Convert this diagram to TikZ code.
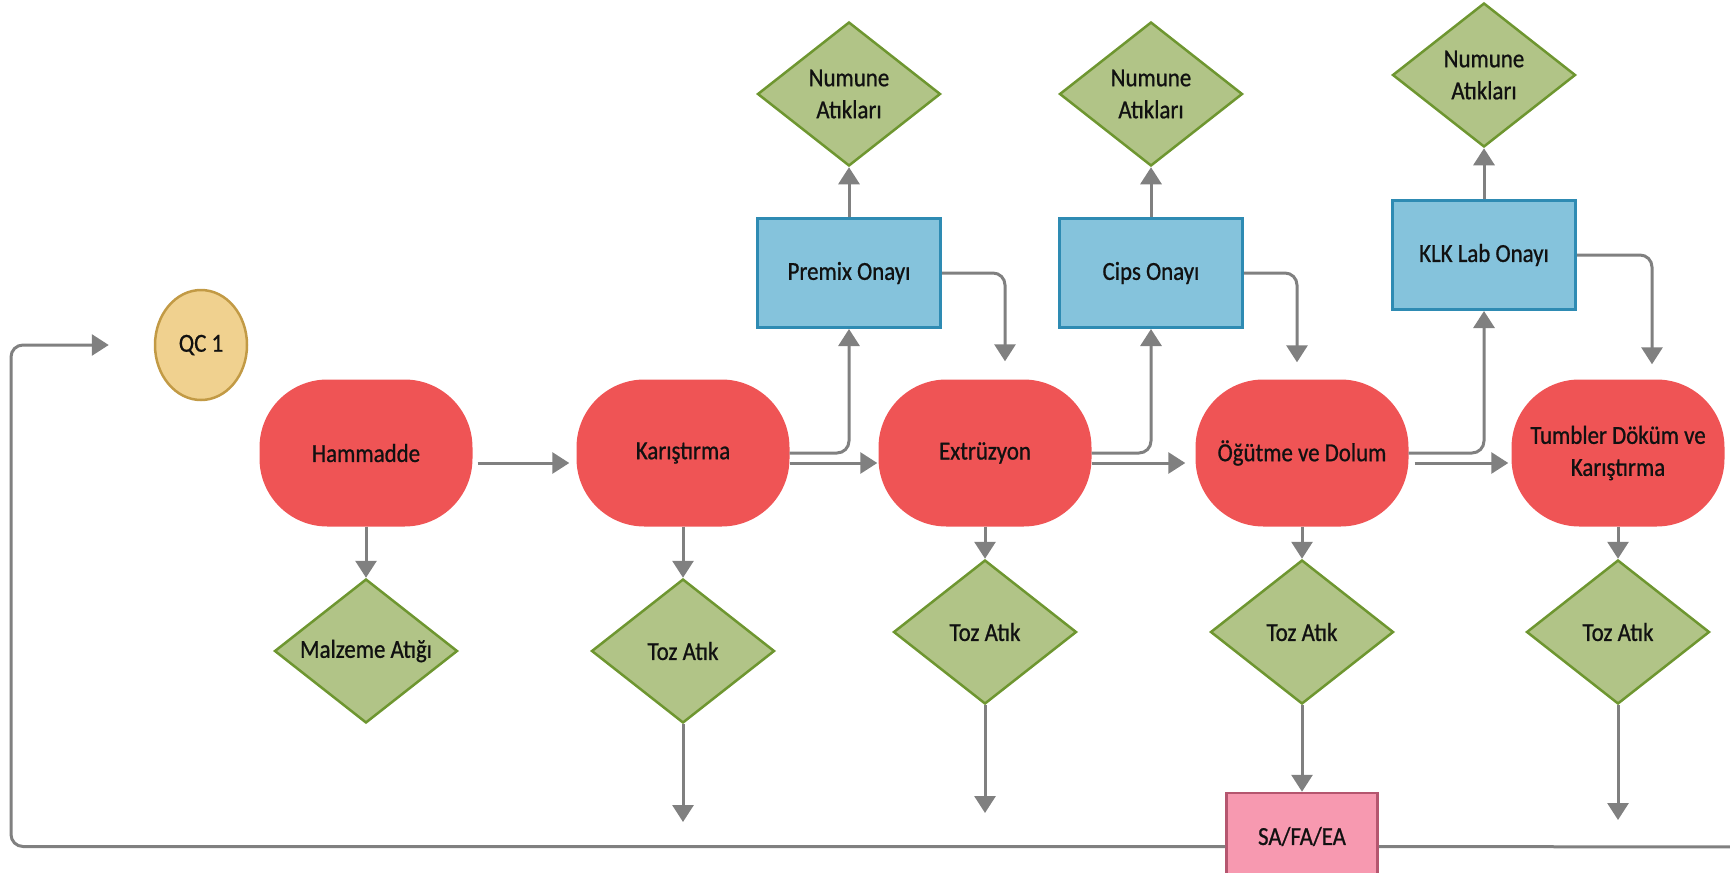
\documentclass[tikz,border=0pt]{standalone}
\usepackage{fontspec}
\setmainfont{Carlito}[FakeStretch=0.88,FakeBold=0.8]
\usetikzlibrary{shapes.geometric,arrows.meta}

\definecolor{procfill}{HTML}{EF5455}
\definecolor{wastefill}{HTML}{B1C487}
\definecolor{wastedraw}{HTML}{6E9630}
\definecolor{checkfill}{HTML}{85C3DC}
\definecolor{checkdraw}{HTML}{2E8BB3}
\definecolor{qcfill}{HTML}{F0D18F}
\definecolor{qcdraw}{HTML}{C29A45}
\definecolor{safill}{HTML}{F799B0}
\definecolor{sadraw}{HTML}{B5566F}
\definecolor{linegray}{HTML}{808080}
\definecolor{inktext}{HTML}{111111}

\begin{document}
\begin{tikzpicture}[x=1pt,y=-1pt,
  font=\fontsize{26}{32}\selectfont,
  every node/.style={text=inktext},
  process/.style={rectangle, rounded corners=68pt, fill=procfill,
    minimum width=213pt, minimum height=147pt, align=center, inner sep=0pt},
  waste/.style={diamond, fill=wastefill, draw=wastedraw, line width=2.5pt,
    minimum width=183pt, minimum height=144pt, inner sep=0pt, align=center,
    shape aspect=1.27},
  check/.style={rectangle, fill=checkfill, draw=checkdraw, line width=3pt,
    minimum width=183pt, minimum height=109pt, align=center, inner sep=0pt},
  qcnode/.style={ellipse, fill=qcfill, draw=qcdraw, line width=2.5pt,
    minimum width=92pt, minimum height=110pt, inner sep=0pt},
  sanode/.style={rectangle, fill=safill, draw=sadraw, line width=2.5pt,
    minimum width=151pt, minimum height=87pt, inner sep=0pt},
  conn/.style={draw=linegray, line width=3pt, rounded corners=12pt,
    -{Triangle[width=21pt,length=17pt]}},
]
\useasboundingbox (0,0) rectangle (1730,873);

% quality-control start point
\node[qcnode] (Q) at (201,345) {QC 1};

% main process line
\node[process] (H) at (366,453) {Hammadde};
\node[process] (K) at (683,453) {Karıştırma};
\node[process] (E) at (985,453) {Extrüzyon};
\node[process] (O) at (1302,453) {Öğütme ve Dolum};
\node[process] (T) at (1618,453) {Tumbler Döküm ve\\Karıştırma};

% approval checks
\node[check] (P) at (849,273) {Premix Onayı};
\node[check] (C) at (1151,273) {Cips Onayı};
\node[check] (L) at (1484,255) {KLK Lab Onayı};

% sample waste
\node[waste] (N1) at (849,94) {Numune\\Atıkları};
\node[waste] (N2) at (1151,94) {Numune\\Atıkları};
\node[waste] (N3) at (1484,75) {Numune\\Atıkları};

% process waste
\node[waste] (MA) at (366,651) {Malzeme Atığı};
\node[waste] (TK) at (683,651) {Toz Atık};
\node[waste] (TE) at (985,632) {Toz Atık};
\node[waste] (TO) at (1302,632) {Toz Atık};
\node[waste] (TT) at (1618,632) {Toz Atık};

% final analysis
\node[sanode] (SA) at (1302,836.5) {SA/FA/EA};

% free ends of open connectors
\coordinate (dK) at (683,822);
\coordinate (dE) at (985,813);
\coordinate (dT) at (1618,820);
\coordinate (loopend) at (1745,847);
\coordinate (loopcorner) at (11,345);

% flow along the main line
\draw[conn, shorten <=5pt, shorten >=7pt] ([yshift=-10pt]H.east) -- ([yshift=-10pt]K.west);
\draw[conn, shorten >=1pt] ([yshift=-10pt]K.east) -- ([yshift=-10pt]E.west);
\draw[conn, shorten >=10pt] ([yshift=-10pt]E.east) -- ([yshift=-10pt]O.west);
\draw[conn, shorten <=6pt, shorten >=3pt] ([yshift=-10pt]O.east) -- ([yshift=-10pt]T.west);

% approval loops
\draw[conn] (K.east) -| (P.south);
\draw[conn] (P.east) -| ([xshift=20pt,yshift=18pt]E.north);
\draw[conn] (E.east) -| (C.south);
\draw[conn] (C.east) -| ([xshift=-5pt,yshift=17pt]O.north);
\draw[conn] (O.east) -| (L.south);
\draw[conn] (L.east) -| ([xshift=34pt,yshift=15pt]T.north);

% sample waste arrows
\draw[conn] (P.north) -- (N1.south);
\draw[conn] (C.north) -- (N2.south);
\draw[conn] (L.north) -- (N3.south);

% process waste arrows
\draw[conn] (H.south) -- (MA.north);
\draw[conn] (K.south) -- (TK.north);
\draw[conn] (E.south) -- (TE.north);
\draw[conn] (O.south) -- (TO.north);
\draw[conn] (T.south) -- (TT.north);
\draw[conn] (TK.south) -- (dK);
\draw[conn] (TE.south) -- (dE);
\draw[conn] (TO.south) -- (SA.north);
\draw[conn] (TT.south) -- (dT);

% feedback loop back to QC
\draw[conn, -] (loopend) -- ([yshift=-10pt]SA.east);
\draw[conn] ([yshift=-10pt]SA.west) -| (loopcorner) -- ([xshift=-45pt]Q.west);
\end{tikzpicture}
\end{document}
